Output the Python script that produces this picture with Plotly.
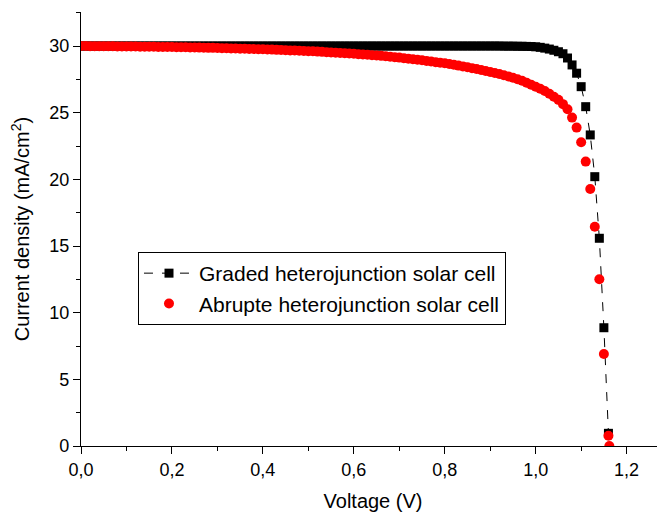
import plotly.graph_objects as go

voltage = [
    0.00, 0.01, 0.02, 0.03, 0.04, 0.05, 0.06, 0.07, 0.08, 0.09,
    0.10, 0.11, 0.12, 0.13, 0.14, 0.15, 0.16, 0.17, 0.18, 0.19,
    0.20, 0.21, 0.22, 0.23, 0.24, 0.25, 0.26, 0.27, 0.28, 0.29,
    0.30, 0.31, 0.32, 0.33, 0.34, 0.35, 0.36, 0.37, 0.38, 0.39,
    0.40, 0.41, 0.42, 0.43, 0.44, 0.45, 0.46, 0.47, 0.48, 0.49,
    0.50, 0.51, 0.52, 0.53, 0.54, 0.55, 0.56, 0.57, 0.58, 0.59,
    0.60, 0.61, 0.62, 0.63, 0.64, 0.65, 0.66, 0.67, 0.68, 0.69,
    0.70, 0.71, 0.72, 0.73, 0.74, 0.75, 0.76, 0.77, 0.78, 0.79,
    0.80, 0.81, 0.82, 0.83, 0.84, 0.85, 0.86, 0.87, 0.88, 0.89,
    0.90, 0.91, 0.92, 0.93, 0.94, 0.95, 0.96, 0.97, 0.98, 0.99,
    1.00, 1.01, 1.02, 1.03, 1.04, 1.05, 1.06, 1.07, 1.08, 1.09,
    1.10, 1.11, 1.12, 1.13, 1.14, 1.15, 1.16,
]

graded_j = [
    30.00, 30.00, 30.00, 30.00, 30.00, 30.00, 30.00, 30.00, 30.00, 30.00,
    30.00, 30.00, 30.00, 30.00, 30.00, 30.00, 30.00, 30.00, 30.00, 30.00,
    30.00, 30.00, 30.00, 30.00, 30.00, 30.00, 30.00, 30.00, 30.00, 30.00,
    30.00, 30.00, 30.00, 30.00, 30.00, 30.00, 30.00, 30.00, 30.00, 30.00,
    30.00, 30.00, 30.00, 30.00, 30.00, 30.00, 30.00, 30.00, 30.00, 30.00,
    30.00, 30.00, 30.00, 30.00, 30.00, 30.00, 30.00, 30.00, 30.00, 30.00,
    30.00, 30.00, 30.00, 30.00, 30.00, 30.00, 30.00, 30.00, 30.00, 30.00,
    30.00, 30.00, 30.00, 30.00, 30.00, 30.00, 30.00, 30.00, 30.00, 30.00,
    30.00, 30.00, 30.00, 30.00, 30.00, 30.00, 30.00, 30.00, 30.00, 30.00,
    30.00, 30.00, 30.00, 29.99, 29.99, 29.99, 29.98, 29.98, 29.97, 29.96,
    29.94, 29.90, 29.84, 29.77, 29.68, 29.57, 29.42, 29.10, 28.58, 27.96,
    26.95, 25.45, 23.33, 20.20, 15.58, 8.87, 0.95,
]

abrupt_v = voltage + [1.162]

abrupt_j = [
    30.00, 30.00, 29.99, 29.99, 29.99, 29.98, 29.98, 29.98, 29.97, 29.97,
    29.97, 29.96, 29.96, 29.95, 29.95, 29.94, 29.94, 29.93, 29.93, 29.92,
    29.92, 29.91, 29.91, 29.90, 29.89, 29.89, 29.88, 29.87, 29.86, 29.86,
    29.85, 29.84, 29.83, 29.82, 29.81, 29.80, 29.79, 29.78, 29.77, 29.76,
    29.75, 29.74, 29.73, 29.71, 29.70, 29.69, 29.67, 29.66, 29.64, 29.63,
    29.61, 29.60, 29.58, 29.56, 29.54, 29.52, 29.50, 29.48, 29.46, 29.44,
    29.42, 29.39, 29.37, 29.34, 29.31, 29.29, 29.26, 29.23, 29.19, 29.16,
    29.13, 29.09, 29.05, 29.01, 28.97, 28.93, 28.88, 28.84, 28.79, 28.75,
    28.70, 28.65, 28.59, 28.53, 28.47, 28.41, 28.34, 28.27, 28.20, 28.13,
    28.05, 27.98, 27.90, 27.81, 27.72, 27.62, 27.51, 27.39, 27.25, 27.10,
    26.95, 26.80, 26.62, 26.42, 26.20, 25.96, 25.64, 25.26, 24.63, 23.88,
    22.78, 21.33, 19.28, 16.45, 12.50, 6.90, 0.77, 0.00,
]

font_family = "Arial, Liberation Sans, sans-serif"

fig = go.Figure()
fig.add_trace(go.Scatter(
    x=voltage, y=graded_j, mode="lines+markers",
    name="Graded heterojunction solar cell",
    line=dict(color="black", width=1, dash="dash"),
    marker=dict(symbol="square", size=9, color="black"),
))
fig.add_trace(go.Scatter(
    x=abrupt_v, y=abrupt_j, mode="markers",
    name="Abrupte heterojunction solar cell",
    marker=dict(symbol="circle", size=10, color="red"),
))

axis_common = dict(
    showline=True, linecolor="black", linewidth=1.3,
    ticks="outside", ticklen=7, tickwidth=1.3, tickcolor="black",
    showgrid=False, zeroline=False, mirror=False, automargin=False,
    tickfont=dict(family=font_family, size=18, color="black"),
)

# page body has an 8px default margin; figure is sized so the plot area lands
# at the same pixels as the reference
fig.update_layout(
    width=657, height=507,
    margin=dict(l=73, r=0, t=4, b=69),
    paper_bgcolor="white", plot_bgcolor="white",
    separators=",.",
    font=dict(family=font_family, color="black"),
    xaxis=dict(
        range=[0, 1.2844], tick0=0, dtick=0.2, tickformat=".1f",
        minor=dict(dtick=0.1, ticks="outside", ticklen=4, tickcolor="black", tickwidth=1.3),
        title=dict(text="Voltage (V)", font=dict(family=font_family, size=20)),
        **axis_common,
    ),
    yaxis=dict(
        range=[0, 32.55], tick0=0, dtick=5,
        minor=dict(dtick=2.5, ticks="outside", ticklen=4, tickcolor="black", tickwidth=1.3),
        title=dict(text="Current density (mA/cm<sup>2</sup>)", font=dict(family=font_family, size=20)),
        **axis_common,
    ),
    legend=dict(
        x=0.0976, y=0.447, xanchor="left", yanchor="top",
        bordercolor="black", borderwidth=1, bgcolor="white",
        font=dict(family=font_family, size=21, color="black"),
        tracegroupgap=0, itemwidth=50,
    ),
)

fig.write_html("out.html")
